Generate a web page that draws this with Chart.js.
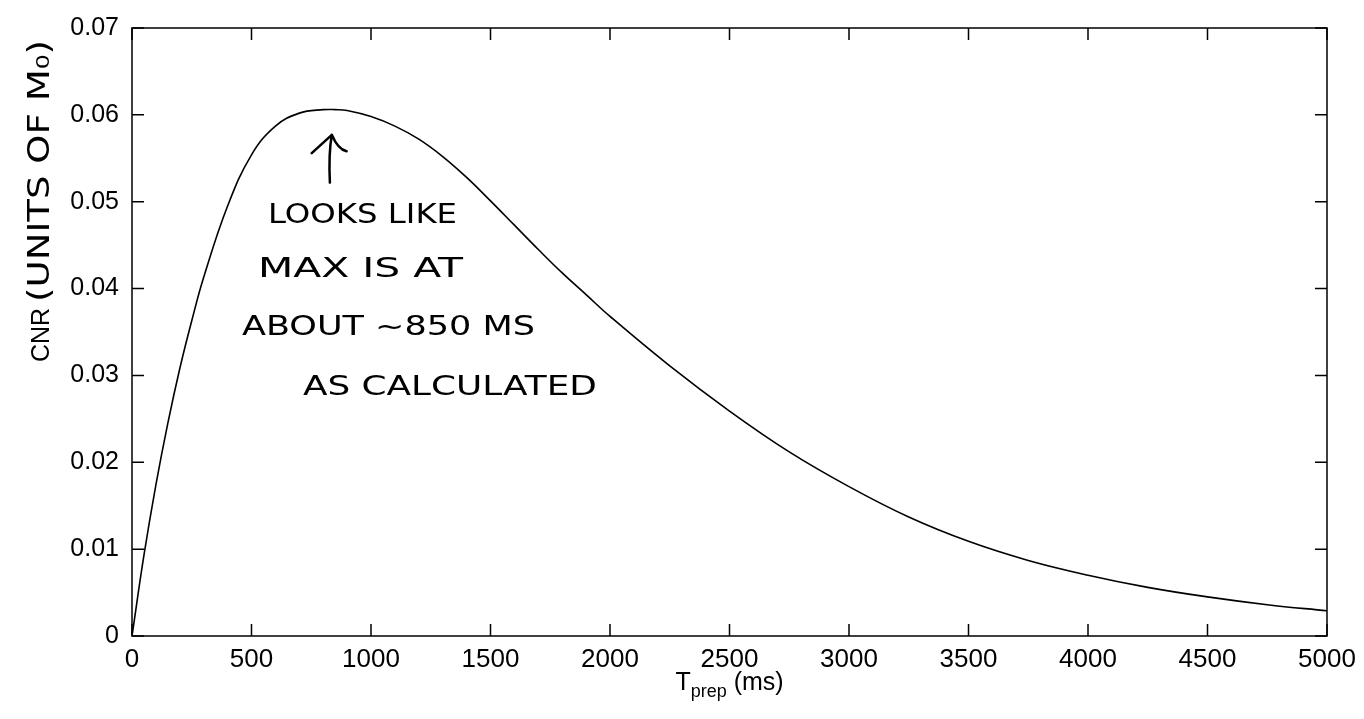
<!DOCTYPE html>
<html>
<head>
<meta charset="utf-8">
<script src="https://cdn.jsdelivr.net/npm/chart.js@4.4.1/dist/chart.umd.min.js"></script>
<style>
  html, body { margin: 0; padding: 0; background: #fff; }
  #wrap { width: 1364px; height: 719px; }
</style>
</head>
<body>
<div id="wrap"><canvas id="cnrChart" width="1364" height="719"></canvas></div>
<script>
// T_prep (ms)
const tPrep = [0, 50, 100, 150, 200, 250, 300, 400, 500, 600, 700, 800, 850, 900,
  1000, 1100, 1200, 1300, 1400, 1500, 1600, 1700, 1800, 1900, 2000,
  2250, 2500, 2750, 3000, 3250, 3500, 3750, 4000, 4250, 4500, 4750, 5000];

// CNR (units of M0)
const cnr = [0, 0.0093, 0.0174, 0.0245, 0.0308, 0.0363, 0.0413, 0.0495, 0.0554, 0.0587, 0.0602, 0.0606, 0.0606, 0.0605,
  0.0598, 0.0587, 0.0572, 0.0552, 0.0528, 0.0501, 0.0473, 0.0445, 0.0418, 0.0393, 0.0368,
  0.0311, 0.0259, 0.0212, 0.0172, 0.0137, 0.0109, 0.0087, 0.0070, 0.0056, 0.0045, 0.0036, 0.0029];

const xTicks = [0, 500, 1000, 1500, 2000, 2500, 3000, 3500, 4000, 4500, 5000];
const yTicks = [0, 0.01, 0.02, 0.03, 0.04, 0.05, 0.06, 0.07];
const yTickLabels = ['0', '0.01', '0.02', '0.03', '0.04', '0.05', '0.06', '0.07'];

// notas escritas a mano sobre el gráfico (posición en unidades de datos)
const notes = [
  { text: 'LOOKS LIKE', from: 569, to: 1360, at: 0.0483 },
  { text: 'MAX IS AT', from: 527, to: 1385, at: 0.0421 },
  { text: 'ABOUT ~850 MS', from: 460, to: 1686, at: 0.0355 },
  { text: 'AS CALCULATED', from: 715, to: 1945, at: 0.0286 }
];

const PRINT_FONT = '"Liberation Sans", Arial, Helvetica, sans-serif';
const HAND_FONT = '"DejaVu Sans", sans-serif';

function fitText(ctx, text, x0, x1, y) {
  const w = ctx.measureText(text).width;
  ctx.save();
  ctx.translate(x0, y);
  ctx.scale((x1 - x0) / w, 1);
  ctx.fillText(text, 0, 0);
  ctx.restore();
}

const framePlugin = {
  id: 'frame',
  afterDraw(chart) {
    const { ctx, chartArea: a, scales: { x, y } } = chart;
    ctx.save();
    ctx.strokeStyle = '#000';
    ctx.fillStyle = '#000';
    ctx.lineWidth = 1.5;
    ctx.strokeRect(a.left, a.top, a.right - a.left, a.bottom - a.top);

    // marcas hacia adentro en los cuatro lados
    ctx.beginPath();
    xTicks.forEach(v => {
      const px = x.getPixelForValue(v);
      ctx.moveTo(px, a.bottom); ctx.lineTo(px, a.bottom - 12);
      ctx.moveTo(px, a.top); ctx.lineTo(px, a.top + 12);
    });
    yTicks.forEach(v => {
      const py = y.getPixelForValue(v);
      ctx.moveTo(a.left, py); ctx.lineTo(a.left + 12, py);
      ctx.moveTo(a.right, py); ctx.lineTo(a.right - 12, py);
    });
    ctx.stroke();

    // título eje x: T_prep (ms)
    const cx = (a.left + a.right) / 2;
    const by = a.bottom + 54;
    ctx.textBaseline = 'alphabetic';
    ctx.textAlign = 'left';
    ctx.font = '25px ' + PRINT_FONT;
    const wT = ctx.measureText('T').width;
    const wMs = ctx.measureText(' (ms)').width;
    ctx.font = '18px ' + PRINT_FONT;
    const wSub = ctx.measureText('prep').width;
    const sx = cx - (wT + wSub + wMs) / 2;
    ctx.font = '25px ' + PRINT_FONT;
    ctx.fillText('T', sx, by);
    ctx.font = '18px ' + PRINT_FONT;
    ctx.fillText('prep', sx + wT, by + 7);
    ctx.font = '25px ' + PRINT_FONT;
    ctx.fillText(' (ms)', sx + wT + wSub, by);

    // título eje y: CNR + nota a mano
    ctx.save();
    ctx.translate(a.left - 83, a.bottom - 274);
    ctx.rotate(-Math.PI / 2);
    ctx.font = '25px ' + PRINT_FONT;
    ctx.fillText('CNR', 0, 0);
    ctx.font = '30px ' + HAND_FONT;
    fitText(ctx, '(UNITS OF M\u2080)', 60, 322, 0);
    ctx.restore();

    // flecha hacia el máximo
    ctx.lineWidth = 2.5;
    ctx.lineCap = 'round';
    ctx.lineJoin = 'round';
    ctx.beginPath();
    ctx.moveTo(x.getPixelForValue(828), y.getPixelForValue(0.0522));
    ctx.quadraticCurveTo(x.getPixelForValue(822), y.getPixelForValue(0.0555),
      x.getPixelForValue(836), y.getPixelForValue(0.0577));
    ctx.moveTo(x.getPixelForValue(752), y.getPixelForValue(0.0556));
    ctx.lineTo(x.getPixelForValue(836), y.getPixelForValue(0.0577));
    ctx.quadraticCurveTo(x.getPixelForValue(862), y.getPixelForValue(0.0560),
      x.getPixelForValue(898), y.getPixelForValue(0.0558));
    ctx.stroke();

    ctx.font = '27px ' + HAND_FONT;
    ctx.textBaseline = 'middle';
    notes.forEach(n => {
      fitText(ctx, n.text, x.getPixelForValue(n.from), x.getPixelForValue(n.to), y.getPixelForValue(n.at));
    });
    ctx.restore();
  }
};

const ctx = document.getElementById('cnrChart').getContext('2d');

new Chart(ctx, {
  type: 'line',
  data: {
    datasets: [{
      data: tPrep.map((t, i) => ({ x: t, y: cnr[i] })),
      borderColor: '#000',
      borderWidth: 1.6,
      pointRadius: 0,
      fill: false,
      tension: 0.4
    }]
  },
  options: {
    responsive: false,
    animation: false,
    layout: { padding: { top: 22, right: 37, left: 0, bottom: 0 } },
    plugins: {
      legend: { display: false },
      tooltip: { enabled: false }
    },
    scales: {
      x: {
        type: 'linear',
        min: 0,
        max: 5000,
        afterBuildTicks: s => { s.ticks = xTicks.map(v => ({ value: v })); },
        afterFit: s => { s.height = 83; },
        ticks: {
          callback: v => String(v),
          color: '#000',
          font: { family: PRINT_FONT, size: 26 },
          maxRotation: 0,
          padding: 8
        },
        grid: { display: false, drawTicks: false },
        border: { display: false }
      },
      y: {
        min: 0,
        max: 0.07,
        afterBuildTicks: s => { s.ticks = yTicks.map(v => ({ value: v })); },
        afterFit: s => { s.width = 132; },
        ticks: {
          callback: (v, i) => yTickLabels[i],
          color: '#000',
          font: { family: PRINT_FONT, size: 25 },
          padding: 13
        },
        grid: { display: false, drawTicks: false },
        border: { display: false }
      }
    }
  },
  plugins: [framePlugin]
});
</script>
</body>
</html>
